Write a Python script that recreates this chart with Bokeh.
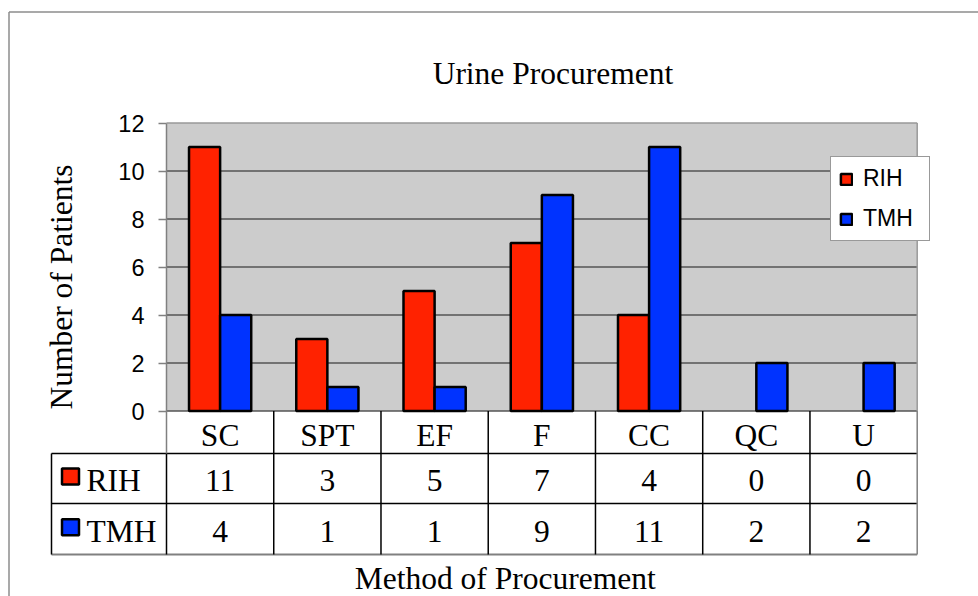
import numpy as np
from bokeh.plotting import figure
from bokeh.models import (Range1d, LinearAxis, FixedTicker, ColumnDataSource,
                          Legend, LegendItem, CDSView, BooleanFilter)
from bokeh.core.properties import value
from bokeh.embed import file_html
from bokeh.resources import INLINE

# ---------------- data ----------------
title_text = "Urine Procurement"
y_label = "Number of Patients"
x_label = "Method of Procurement"
categories = ["SC", "SPT", "EF", "F", "CC", "QC", "U"]
series_names = ["RIH", "TMH"]
rih = [11, 3, 5, 7, 4, 0, 0]
tmh = [4, 1, 1, 9, 11, 2, 2]
y_ticks = [0, 2, 4, 6, 8, 10, 12]
colors = ["#ff2200", "#0033ff"]

# ---------------- layout helpers ----------------
W, H = 978, 596
PX0, PPX = 166.0, 750.7 / 7     # canvas px of x=0, px per category
PY0, PPY = 410.5, 24.0          # canvas px of y=0, px per unit
MID = 10.6                      # baseline -> middle offset for the serif texts


def X(px):
    return (px - PX0) / PPX


def Y(py):
    return (PY0 - py) / PPY


SERIF = value("Liberation Serif")
SANS = "Liberation Sans"
FS = "31.5px"

n = len(categories)
ymax = y_ticks[-1]

p = figure(width=W, height=H, x_range=Range1d(X(0), X(W)),
           y_range=Range1d(Y(H), Y(0)), x_axis_type=None, y_axis_type=None,
           toolbar_location=None, output_backend="svg")
p.min_border = 0
p.min_border_left = 0
p.min_border_right = 0
p.min_border_top = 0
p.min_border_bottom = 0
p.outline_line_color = None
p.background_fill_color = "white"
p.border_fill_color = "white"

# outer frame (top and left edges)
p.segment(x0=[X(8.5), X(8.5)], y0=[Y(11.5), Y(11.5)], x1=[X(W), X(8.5)], y1=[Y(11.5), Y(H)],
          line_color="#8c8c8c", line_width=1.5)

# plot area
p.quad(left=0, right=n, bottom=0, top=ymax, fill_color="#cccccc", line_color=None)
inner = y_ticks[:-1]
p.segment(x0=0, x1=n, y0=inner, y1=inner, line_color="#555555", line_width=1.5)
p.segment(x0=[0, n], y0=[ymax, 0], x1=[n, n], y1=[ymax, ymax],
          line_color="#999999", line_width=1.5)

# bars
cx = np.arange(n) + 0.5
bw = 0.29
src = ColumnDataSource(dict(xr=cx - bw / 2, xt=cx + bw / 2, rih=rih, tmh=tmh))
v1 = CDSView(filter=BooleanFilter([v > 0 for v in rih]))
v2 = CDSView(filter=BooleanFilter([v > 0 for v in tmh]))
r1 = p.vbar(x="xr", top="rih", bottom=0, width=bw, source=src, view=v1,
            fill_color=colors[0], line_color="black", line_width=2.5)
r2 = p.vbar(x="xt", top="tmh", bottom=0, width=bw, source=src, view=v2,
            fill_color=colors[1], line_color="black", line_width=2.5)

# y axis
ax = LinearAxis(fixed_location=0, ticker=FixedTicker(ticks=y_ticks), bounds=(0, ymax))
ax.major_tick_out = 8
ax.major_tick_in = 0
ax.minor_tick_out = 0
ax.minor_tick_in = 0
ax.axis_line_color = "#808080"
ax.axis_line_width = 1.5
ax.major_tick_line_color = "#808080"
ax.major_tick_line_width = 1.5
ax.major_label_text_font = SANS
ax.major_label_text_font_size = "23.5px"
ax.major_label_text_color = "black"
ax.major_label_standoff = 14
p.add_layout(ax, "left")

# data table
row1, row2, row3 = Y(453), Y(503), Y(554)
xl = X(51)
p.segment(x0=[xl, xl], x1=[n, n], y0=[row1, row2], y1=[row1, row2],
          line_color="black", line_width=1.5)
p.segment(x0=xl, x1=n, y0=row3, y1=row3, line_color="#808080", line_width=2)
bounds_x = list(range(1, n))
p.segment(x0=bounds_x, x1=bounds_x, y0=0, y1=row3, line_color="black", line_width=1.5)
p.segment(x0=[xl, 0], x1=[xl, 0], y0=[row1, row1], y1=[row3, row3],
          line_color="black", line_width=1.5)
p.segment(x0=[0, n], x1=[0, n], y0=[0, 0], y1=[row1, row3],
          line_color="#808080", line_width=1.5)

txt = dict(text_font=SERIF, text_font_size=FS, text_color="black",
           text_baseline="middle")
p.text(x=cx, y=Y(446 - MID), text=categories, text_align="center", **txt)
p.text(x=cx, y=Y(491 - MID), text=[str(v) for v in rih], text_align="center", **txt)
p.text(x=cx, y=Y(541.5 - MID), text=[str(v) for v in tmh], text_align="center", **txt)
p.text(x=X(86), y=[Y(491 - MID), Y(541.5 - MID)], text=series_names, text_align="left", **txt)
p.rect(x=X(70), y=[Y(476), Y(526.7)], width=17, height=16, width_units="screen",
       height_units="screen", fill_color=colors, line_color="black", line_width=2.5)

# titles
p.text(x=[X(552.4)], y=[Y(84 - MID)], text=[title_text], text_align="center", **txt)
p.text(x=[X(504.7)], y=[Y(589 - MID)], text=[x_label], text_align="center", **txt)
p.text(x=[X(72 - MID)], y=[Y(286.5)], text=[y_label], text_align="center",
       angle=np.pi / 2, **txt)

# legend
legend = Legend(items=[LegendItem(label=series_names[0], renderers=[r1]),
                       LegendItem(label=series_names[1], renderers=[r2])],
                location=(830, H - 241))
legend.label_text_font = SANS
legend.label_text_font_size = "23px"
legend.label_text_color = "black"
legend.glyph_width = 14
legend.glyph_height = 14
legend.label_standoff = 10
legend.label_height = 20
legend.label_width = 58
legend.spacing = 13
legend.padding = 8
legend.margin = 0
legend.border_line_color = "#333333"
legend.border_line_width = 1
legend.background_fill_color = "white"
legend.background_fill_alpha = 1
p.add_layout(legend)

open("out.html", "w").write(file_html(p, INLINE))
